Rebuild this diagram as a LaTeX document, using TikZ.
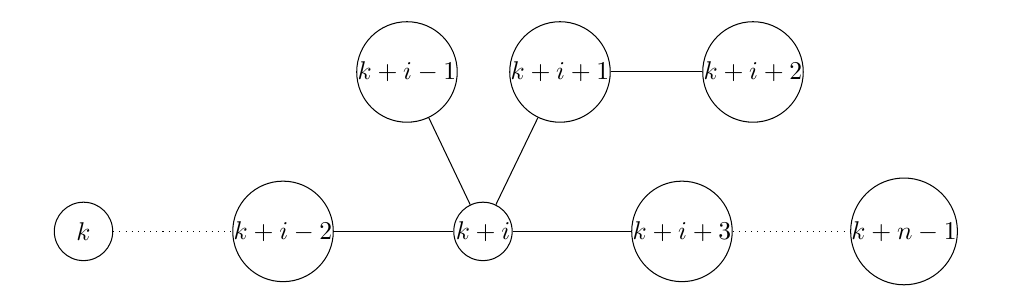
\documentclass[tikz,border=0pt]{standalone}
\usepackage{amsmath,amssymb}
\usetikzlibrary{positioning,calc}

\tikzset{vtx/.style={circle,draw,inner sep=0pt,minimum size=0.8cm}}

\begin{document}
\begin{tikzpicture}
\useasboundingbox (0,0) rectangle (13.863,-4.123);
% bottom row
\node[vtx] (k) at (1.144,-3.17) {$k$};
\node[vtx] (km2) at (3.877,-3.17) {$k+i-2$};
\node[vtx] (ki) at (6.616,-3.17) {$k+i$};
\node[vtx] (kp3) at (9.342,-3.17) {$k+i+3$};
\node[vtx] (kn) at (12.384,-3.17) {$k+n-1$};
% top row
\node[vtx] (km1) at (5.575,-0.986) {$k+i-1$};
\node[vtx] (kp1) at (7.671,-0.986) {$k+i+1$};
\node[vtx] (kp2) at (10.315,-0.986) {$k+i+2$};

\draw[dotted] (k) -- (km2);
\draw (km2) -- (ki);
\draw (ki) -- (kp3);
\draw[dotted] (kp3) -- (kn);
\draw (ki) -- (km1);
\draw (ki) -- (kp1);
\draw (kp1) -- (kp2);

\end{tikzpicture}
\end{document}
